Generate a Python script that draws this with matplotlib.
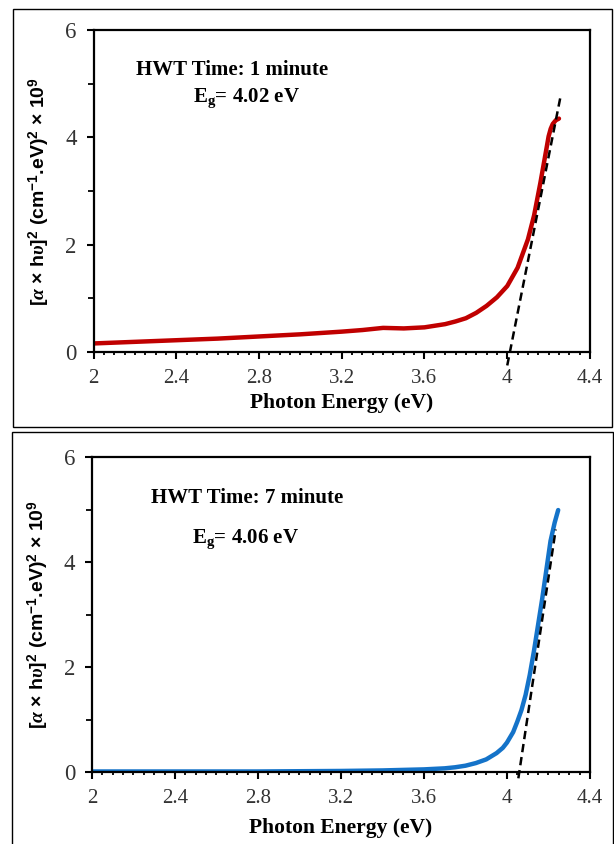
import matplotlib
matplotlib.use('Agg')
import matplotlib.pyplot as plt
import matplotlib.ticker as plticker
from matplotlib.patches import Rectangle

# Panel 1: HWT time 1 minute
energy_1 = [2.0, 2.2, 2.4, 2.6, 2.8, 3.0, 3.2, 3.3, 3.4, 3.5, 3.6, 3.7, 3.75, 3.8, 3.85,
            3.9, 3.95, 4.0, 4.05, 4.1, 4.13, 4.16, 4.19, 4.2, 4.21, 4.22, 4.235, 4.25]
signal_1 = [0.16, 0.19, 0.22, 0.25, 0.29, 0.33, 0.38, 0.41, 0.45, 0.44, 0.46, 0.52, 0.57, 0.63, 0.73,
            0.86, 1.02, 1.23, 1.57, 2.10, 2.55, 3.15, 3.80, 4.02, 4.16, 4.25, 4.32, 4.35]
fit_x_1 = [4.0, 4.257]
fit_y_1 = [-0.25, 4.75]

# Panel 2: HWT time 7 minute
energy_2 = [2.0, 2.4, 2.8, 3.2, 3.4, 3.5, 3.6, 3.7, 3.75, 3.8, 3.85, 3.9, 3.95, 3.98, 4.0,
            4.03, 4.05, 4.07, 4.09, 4.11, 4.13, 4.15, 4.17, 4.19, 4.21, 4.23, 4.247]
signal_2 = [0.01, 0.01, 0.01, 0.02, 0.03, 0.04, 0.05, 0.07, 0.09, 0.12, 0.17, 0.24, 0.36, 0.46, 0.56,
            0.76, 0.96, 1.18, 1.47, 1.85, 2.30, 2.80, 3.30, 3.85, 4.40, 4.75, 4.99]
fit_x_2 = [4.055, 4.235]
fit_y_2 = [-0.12, 4.62]

titles = ['HWT Time: 1 minute', 'HWT Time: 7 minute']
gaps = [r'E$_\mathregular{g}$= 4.02 eV', r'E$_\mathregular{g}$= 4.06 eV']

plt.rcParams['lines.scale_dashes'] = False
plt.rcParams['mathtext.fontset'] = 'custom'
plt.rcParams['mathtext.rm'] = 'Liberation Sans:bold'
plt.rcParams['mathtext.bf'] = 'Liberation Sans:bold'
plt.rcParams['mathtext.it'] = 'Liberation Serif:italic:bold'

fig = plt.figure(figsize=(6.14, 8.44), dpi=100)

# frames round each panel
fig.add_artist(Rectangle((0.0212, 0.4941), 0.9755, 0.4952, transform=fig.transFigure,
                         fill=False, edgecolor='black', linewidth=1.0))
fig.add_artist(Rectangle((0.0195, -0.01), 0.979, 0.4982, transform=fig.transFigure,
                         fill=False, edgecolor='black', linewidth=1.0))

ax1 = fig.add_axes([0.1523, 0.5829, 0.8086, 0.3815])
ax2 = fig.add_axes([0.1498, 0.0853, 0.8110, 0.3732])

panels = [
    (ax1, energy_1, signal_1, fit_x_1, fit_y_1, '#C00000', (0.0856, 0.876), (0.1998, 0.789), -0.158),
    (ax2, energy_2, signal_2, fit_x_2, fit_y_2, '#1473C9', (0.118, 0.870), (0.200, 0.738), -0.178),
]

for i, (ax, ex, sy, fx, fy, col, tpos, gpos, xlab_y) in enumerate(panels):
    ax.plot(ex, sy, color=col, linewidth=3.2, solid_capstyle='round')
    ax.plot(fx, fy, color='black', linewidth=1.8, dashes=(6, 3.5), clip_on=False)

    ax.set_xlim(2, 4.4)
    ax.set_ylim(0, 6)
    ax.xaxis.set_major_locator(plticker.MultipleLocator(0.4))
    ax.xaxis.set_minor_locator(plticker.MultipleLocator(0.05))
    ax.yaxis.set_major_locator(plticker.MultipleLocator(2))
    ax.yaxis.set_minor_locator(plticker.MultipleLocator(1))
    ax.xaxis.set_major_formatter(plticker.FuncFormatter(lambda v, p: f'{v:g}'))

    for s in ax.spines.values():
        s.set_linewidth(1.6)
    ax.tick_params(axis='x', which='major', direction='out', length=5, width=1.5, pad=7,
                   labelsize=15, labelfontfamily='Liberation Serif', colors='black')
    ax.tick_params(axis='x', which='minor', direction='out', length=2.5, width=1.3)
    ax.tick_params(axis='y', which='major', direction='out', length=5, width=1.5, pad=7,
                   labelsize=16.5, labelfontfamily='Liberation Serif')
    ax.tick_params(axis='y', which='minor', direction='out', length=4.5, width=1.3)
    ax.tick_params(top=False, right=False, which='both')
    for lab in ax.get_xticklabels() + ax.get_yticklabels():
        lab.set_color('#333333')

    ax.text(tpos[0], tpos[1], titles[i], transform=ax.transAxes, ha='left', va='center',
            fontsize=15, fontweight='bold', family='Liberation Serif')
    ax.text(gpos[0], gpos[1], gaps[i], transform=ax.transAxes, ha='left', va='center',
            fontsize=15, fontweight='bold', family='Liberation Serif')
    ax.text(0.5, xlab_y, 'Photon Energy (eV)', transform=ax.transAxes, ha='center', va='center',
            fontsize=15.5, fontweight='bold', family='Liberation Serif')
    ax.text(-0.108, 0.5, r'[$\alpha$ × h$\upsilon$]$^2$ (cm$^{-1}$.eV)$^2$ × 10$^9$',
            transform=ax.transAxes, rotation=90, ha='center', va='center',
            fontsize=14, fontweight='bold', family='Liberation Sans')

fig.savefig('out.png', dpi=100)
